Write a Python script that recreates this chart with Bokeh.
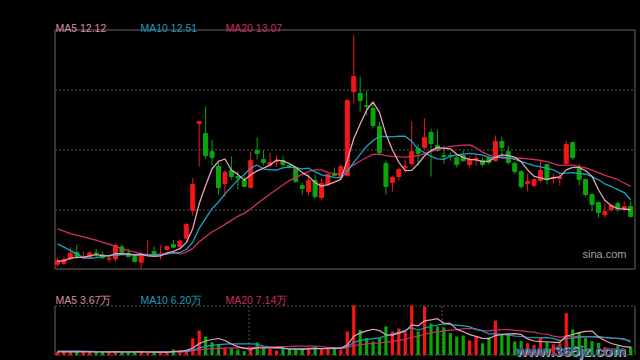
import numpy as np
import pandas as pd
from bokeh.plotting import figure
from bokeh.models import Range1d
from bokeh.core.properties import value
from bokeh.embed import file_html
from bokeh.resources import INLINE

# ---------------- data ----------------
opens = [9.70, 9.74, 9.93, 10.21, 9.99, 10.03, 10.19, 10.11, 9.92, 9.93,
         10.45, 10.18, 10.03, 9.79, 10.11, 10.25, 10.11, 10.34, 10.55, 10.47,
         10.83, 12.03, 15.80, 15.36, 14.58, 13.93, 13.20, 13.76, 13.50, 13.33,
         13.02, 14.63, 14.24, 13.98, 14.14, 14.19, 13.98, 13.85, 13.11, 12.85,
         13.33, 12.59, 13.15, 13.63, 13.46, 13.54, 17.18, 17.10, 16.58, 16.45,
         15.67, 14.06, 13.24, 13.50, 13.89, 14.06, 14.71, 14.76, 15.41, 14.84,
         14.41, 14.41, 14.32, 14.41, 14.02, 14.24, 14.19, 14.32, 14.19, 15.02,
         14.58, 14.06, 13.72, 13.20, 13.11, 13.33, 14.02, 13.41, 13.41, 14.06,
         14.97, 13.85, 13.37, 12.72, 12.37, 11.85, 12.07, 12.33, 12.11, 12.20]
highs = [9.98, 10.03, 10.44, 10.55, 10.25, 10.26, 10.37, 10.25, 10.08, 10.58,
         10.54, 10.37, 10.15, 10.22, 10.76, 10.48, 10.51, 10.51, 10.76, 10.76,
         11.48, 13.44, 15.90, 16.53, 15.10, 14.11, 13.76, 14.37, 13.72, 13.50,
         14.58, 15.19, 14.63, 14.54, 14.41, 14.37, 14.06, 13.89, 13.24, 13.59,
         13.59, 13.41, 13.63, 13.89, 14.02, 16.88, 19.65, 17.83, 17.23, 16.66,
         15.88, 14.19, 13.54, 13.89, 14.24, 15.88, 14.89, 16.01, 15.58, 15.54,
         14.84, 14.54, 14.41, 14.63, 14.37, 14.50, 14.32, 14.45, 15.28, 15.23,
         14.84, 14.15, 13.76, 13.63, 13.41, 14.19, 14.06, 13.63, 13.63, 15.06,
         15.02, 14.06, 13.41, 12.76, 12.42, 12.33, 12.29, 12.42, 12.42, 12.42]
lows = [9.60, 9.69, 9.86, 9.93, 9.89, 9.98, 10.00, 9.92, 9.79, 9.83,
        10.15, 10.00, 9.79, 9.54, 10.08, 10.03, 9.90, 10.29, 10.39, 10.44,
        10.80, 11.81, 13.93, 14.28, 13.98, 12.72, 12.63, 13.37, 12.94, 13.07,
        12.98, 14.24, 13.98, 13.93, 13.93, 13.93, 13.85, 13.24, 12.72, 12.68,
        12.55, 12.50, 13.11, 13.50, 13.41, 13.50, 16.66, 16.32, 16.14, 15.58,
        14.41, 12.72, 12.85, 13.33, 13.67, 13.98, 13.98, 14.71, 13.50, 14.58,
        14.06, 14.19, 13.89, 14.15, 13.89, 13.98, 13.93, 14.02, 14.15, 14.37,
        14.02, 13.59, 12.98, 12.85, 13.07, 13.24, 13.15, 13.20, 13.11, 14.02,
        14.24, 13.11, 12.63, 11.98, 11.72, 11.72, 11.98, 11.94, 11.98, 11.72]
closes = [9.86, 9.90, 10.18, 10.03, 10.03, 10.19, 10.13, 9.98, 9.96, 10.51,
          10.22, 10.03, 9.82, 10.11, 10.13, 10.11, 10.15, 10.47, 10.44, 10.70,
          11.42, 13.15, 15.88, 14.41, 14.32, 13.02, 13.67, 13.50, 13.46, 13.07,
          14.19, 14.50, 14.11, 14.11, 14.15, 14.02, 13.93, 13.28, 12.98, 13.33,
          12.63, 13.20, 13.59, 13.54, 13.93, 16.79, 17.83, 16.79, 16.53, 15.71,
          14.54, 13.07, 13.46, 13.80, 13.93, 14.58, 14.50, 15.19, 14.93, 14.63,
          14.37, 14.39, 14.02, 14.19, 14.24, 14.28, 14.02, 14.11, 15.02, 14.76,
          14.11, 13.72, 13.07, 13.28, 13.37, 13.76, 13.37, 13.46, 13.46, 14.89,
          14.32, 13.37, 12.72, 12.29, 11.94, 11.98, 12.24, 12.11, 12.20, 11.77]
# volume in 万
volumes = [1.6, 1.6, 1.5, 1.5, 1.5, 1.6, 1.5, 1.5, 1.5, 1.6,
           1.5, 1.5, 1.5, 1.6, 1.5, 1.3, 1.5, 1.5, 2.7, 2.5,
           2.6, 7.9, 11.8, 8.9, 6.2, 4.9, 3.3, 3.3, 2.7, 1.9,
           3.3, 6.0, 3.3, 3.0, 2.2, 3.3, 2.7, 3.0, 2.7, 3.3,
           4.1, 2.7, 3.8, 3.5, 2.7, 11.3, 23.7, 12.0, 8.2, 6.5,
           8.2, 13.7, 11.3, 12.7, 10.9, 23.7, 11.3, 23.2, 15.1, 13.7,
           13.2, 10.5, 8.9, 9.4, 7.0, 8.9, 5.7, 8.6, 16.5, 9.7,
           10.1, 6.5, 6.7, 5.7, 4.8, 8.6, 6.2, 5.2, 5.7, 20.0,
           12.2, 10.6, 8.1, 6.7, 5.9, 3.8, 3.3, 4.3, 2.9, 4.1]

# moving-average values at the left edge (history before the first candle)
ma5_head = [9.82, 9.86, 9.96, 10.00]
ma10_head = [10.58, 10.44, 10.29, 10.15, 9.98, 9.96, 9.99, 10.03, 10.08]
ma20_head = [11.23, 11.13, 11.03, 10.96, 10.89, 10.81, 10.74, 10.65, 10.57, 10.47,
             10.38, 10.29, 10.22, 10.15, 10.12, 10.11, 10.12, 10.15, 10.19]
vma5_head = [1.6, 1.6, 1.55, 1.55]
vma10_head = [2.0, 2.0, 1.95, 1.9, 1.85, 1.8, 1.7, 1.65, 1.6]
vma20_head = [1.8, 1.8, 1.8, 1.79, 1.78, 1.77, 1.76, 1.75, 1.74, 1.73,
              1.72, 1.71, 1.70, 1.69, 1.68, 1.67, 1.66, 1.65, 1.64]

price_labels = ["MA5 12.12", "MA10 12.51", "MA20 13.07"]
volume_labels = ["MA5 3.67万", "MA10 6.20万", "MA20 7.14万"]
grid_prices = [17.25, 14.65, 12.05]

# ---------------- styles ----------------
BG = "#000000"
RED = "#f51616"
GREEN = "#0aa60a"
C_MA5 = "#eaa2bb"
C_MA10 = "#1ca2c0"
C_MA20 = "#d22e66"
T_MA5 = "#d98ba3"
T_MA10 = "#1a9cb8"
T_MA20 = "#cc2a5e"
FRAME = "#666666"
GRID = "#555555"
FONT = value("Liberation Sans")

# ---------------- layout helpers (reference pixel space) ----------------
X0, DX = 57.0, 6.44          # centre of first candle, candle spacing
Y_REF, P_REF, PPX = 209.5, 12.05, 2.6 / 60.0
VBASE, VPX = 354.7, 0.476


def xd(px):
    return (px - X0) / DX


def yp(py):
    return P_REF + (Y_REF - py) * PPX


def yv(py):
    return (VBASE - py) * VPX


n = len(closes)
idx = np.arange(n)
o = np.array(opens); c = np.array(closes)
h = np.array(highs); l = np.array(lows)
v = np.array(volumes)
colors = [RED if cc >= oo else GREEN for oo, cc in zip(o, c)]


def moving(series, win, head):
    m = pd.Series(series).rolling(win).mean().to_numpy()
    m[:len(head)] = head
    return m


ma5 = moving(c, 5, ma5_head)
ma10 = moving(c, 10, ma10_head)
ma20 = moving(c, 20, ma20_head)
vma5 = moving(v, 5, vma5_head)
vma10 = moving(v, 10, vma10_head)
vma20 = moving(v, 20, vma20_head)

W, H = 640, 360
p = figure(width=W, height=H, output_backend="svg", toolbar_location=None,
           x_range=Range1d(xd(0), xd(W)),
           y_range=Range1d(yp(H), yp(0)),
           x_axis_location=None, y_axis_location=None,
           min_border=0, background_fill_color=BG, border_fill_color=BG,
           outline_line_color=None)
p.extra_y_ranges = {"vol": Range1d(yv(H), yv(0))}
p.grid.visible = False

# frame of price panel
L_, R_ = xd(54.5), xd(634.5)
p.line([L_, R_, R_, L_, L_], [yp(29.5), yp(29.5), yp(268.5), yp(268.5), yp(29.5)],
       line_color=FRAME, line_width=1)
p.segment(x0=[L_] * 3, x1=[R_] * 3, y0=grid_prices, y1=grid_prices,
          line_color=GRID, line_width=1, line_dash="2 2")

# volume panel frame
vt, vb = yv(305.5), yv(354.5)
p.segment(x0=[L_, L_], x1=[R_, R_], y0=[vt, vb], y1=[vt, vb],
          line_color=GRID, line_width=1, line_dash="2 2", y_range_name="vol")
p.segment(x0=[L_, R_], x1=[L_, R_], y0=[vt, vt], y1=[vb, vb],
          line_color=FRAME, line_width=1, y_range_name="vol")
p.segment(x0=[xd(248.5), xd(441.5)], x1=[xd(248.5), xd(441.5)], y0=[vt, vt], y1=[vb, vb],
          line_color=GRID, line_width=1, line_dash="2 2", y_range_name="vol")

# candles
p.segment(x0=idx, x1=idx, y0=l, y1=h, line_color=colors, line_width=1)
p.vbar(x=idx, width=0.62, top=np.maximum(o, c), bottom=np.minimum(o, c),
       fill_color=colors, line_color=colors, line_width=1)

# price MAs
p.line(idx, ma20, line_color=C_MA20, line_width=1.3)
p.line(idx, ma10, line_color=C_MA10, line_width=1.3)
p.line(idx, ma5, line_color=C_MA5, line_width=1.3)

# volume bars and MAs
p.vbar(x=idx, width=0.5, top=v, bottom=0, fill_color=colors, line_color=None,
       y_range_name="vol")
p.line(idx, vma20, line_color=C_MA20, line_width=1.2, y_range_name="vol")
p.line(idx, vma10, line_color=C_MA10, line_width=1.2, y_range_name="vol")
p.line(idx, vma5, line_color=C_MA5, line_width=1.2, y_range_name="vol")

# legends
lab_x = [xd(55), xd(140), xd(225)]
lab_c = [T_MA5, T_MA10, T_MA20]
p.text(x=lab_x, y=[yp(27.5)] * 3, text=price_labels, text_color=lab_c,
       text_font=FONT, text_font_size="10.5px", text_baseline="alphabetic")
p.text(x=lab_x, y=[yp(299.5)] * 3, text=volume_labels, text_color=lab_c,
       text_font=FONT, text_font_size="10.5px", text_baseline="alphabetic")

p.text(x=[xd(582)], y=[yp(253.3)], text=["sina.com"], text_color="#a0a0a0",
       text_font=FONT, text_font_size="11px", text_baseline="alphabetic")

# watermark (light halo + dark blue face)
p.text(x=[xd(516)], y=[yp(351)], text=["www.365jz.com"], text_color="#c9d6e4",
       text_font=FONT, text_font_size="15px", text_font_style="bold",
       text_baseline="alphabetic", text_alpha=0.85)
p.text(x=[xd(515)], y=[yp(350)], text=["www.365jz.com"], text_color="#355a88",
       text_font=FONT, text_font_size="15px", text_font_style="bold",
       text_baseline="alphabetic")

html = file_html(p, INLINE)
html = html.replace("<head>", "<head><style>html,body{background:#000;}</style>", 1)
open("out.html", "w").write(html)
